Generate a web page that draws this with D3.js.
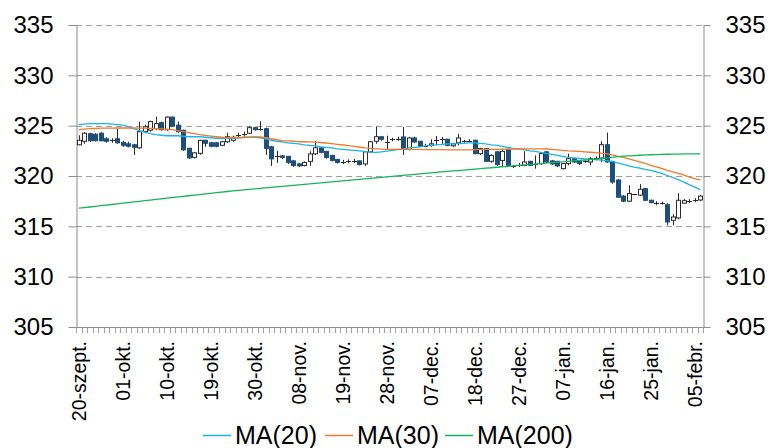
<!DOCTYPE html>
<html>
<head>
<meta charset="utf-8">
<script src="https://cdn.jsdelivr.net/npm/d3@7/dist/d3.min.js"></script>
<style>
  html, body { margin: 0; padding: 0; background: #ffffff; }
  svg { display: block; }
  text { font-family: "Liberation Sans", Arial, Helvetica, sans-serif; fill: #000; }
</style>
</head>
<body>
<div id="chart"></div>
<script>
// ---------------- DATA ----------------
const tickLabels = ["20-szept.","01-okt.","10-okt.","19-okt.","30-okt.","08-nov.","19-nov.","28-nov.",
  "07-dec.","18-dec.","27-dec.","07-jan.","16-jan.","25-jan.","05-febr."];
const labelEvery = 8;
const yTicks = [305, 310, 315, 320, 325, 330, 335];

const openV = [
 323.10,323.45,324.20,324.15,324.25,323.70,323.55,323.70,323.35,323.20,
 323.10,322.80,324.40,324.55,324.70,325.30,324.60,325.85,325.05,324.55,
 322.75,321.85,322.25,323.55,323.30,323.30,323.05,323.40,323.55,324.00,
 324.10,324.25,324.80,324.70,324.70,322.90,321.90,322.00,321.95,321.50,
 321.20,321.05,321.45,322.20,322.80,322.45,322.05,321.65,321.40,321.45,
 321.45,321.50,321.20,322.40,323.45,323.90,323.40,323.65,323.70,323.88,
 322.65,323.78,323.45,323.00,323.05,323.55,323.65,323.65,323.00,323.30,
 323.45,323.50,323.55,322.22,322.72,321.46,322.40,321.55,322.65,320.95,
 321.05,321.06,321.46,321.13,321.23,322.40,321.50,321.46,320.73,321.23,
 321.72,321.46,321.46,321.39,321.75,321.79,323.11,321.39,319.60,318.00,
 317.50,318.15,318.10,318.74,317.59,317.35,317.30,317.15,315.60,315.83,
 317.30,317.49,317.50,317.62];
const highV = [
 324.05,324.35,324.30,324.25,324.35,323.85,323.75,324.70,323.50,323.40,
 323.20,325.40,325.10,325.50,325.90,325.40,325.90,325.90,325.40,324.60,
 322.80,322.40,323.60,323.60,323.40,323.35,323.50,324.30,324.00,324.30,
 324.40,324.95,324.90,325.45,324.80,323.00,322.50,322.10,322.00,321.60,
 321.30,321.45,322.45,323.45,322.90,322.50,322.10,321.70,321.60,321.65,
 321.70,321.55,322.45,323.50,324.90,323.95,324.00,323.80,323.90,324.87,
 323.90,323.90,323.50,323.20,323.65,323.98,323.88,323.70,323.30,324.20,
 323.60,323.65,323.60,322.80,322.80,322.15,322.50,322.70,322.70,321.10,
 321.30,322.45,321.50,322.05,322.30,322.45,321.60,321.50,321.30,322.22,
 321.80,321.50,321.60,321.89,321.95,323.45,324.30,321.50,319.70,318.10,
 319.07,318.20,319.20,318.80,317.65,317.50,317.45,317.30,316.20,318.30,
 317.70,317.70,317.80,318.10];
const lowV = [
 323.05,323.20,323.40,323.45,323.45,323.30,323.30,323.20,322.90,322.85,
 322.10,322.70,324.30,324.40,324.60,324.50,324.50,324.85,324.30,322.50,
 321.70,321.75,322.10,322.90,322.85,322.85,322.95,323.30,323.40,323.80,
 323.90,324.20,324.50,324.50,322.10,321.00,321.30,321.70,321.20,320.90,
 320.90,320.95,321.00,322.10,322.25,321.70,321.45,321.25,321.20,321.25,
 321.30,321.05,321.00,322.30,323.20,323.50,322.70,323.45,323.50,322.10,
 322.55,323.30,322.90,322.85,322.90,323.05,323.20,322.95,322.90,323.05,
 323.30,323.35,322.15,322.10,321.40,321.30,321.00,320.90,321.00,320.80,
 320.90,321.00,321.00,320.73,321.10,321.30,321.10,320.90,320.65,321.06,
 321.30,321.10,321.30,321.06,321.55,321.39,321.30,319.23,317.80,317.40,
 317.40,318.10,318.00,317.50,317.30,317.10,317.15,315.10,315.10,315.70,
 317.25,317.30,317.40,317.50];
const closeV = [
 323.55,324.25,323.50,323.50,323.50,323.45,323.50,323.30,323.05,322.95,
 322.85,324.40,324.90,325.40,325.20,324.60,325.85,324.95,324.40,322.60,
 321.80,322.30,323.55,323.25,322.95,322.95,323.40,323.90,323.85,324.05,
 324.15,324.80,324.60,324.60,322.75,321.70,321.95,321.85,321.35,321.05,
 321.00,321.35,322.20,322.80,322.35,321.85,321.55,321.35,321.42,321.47,
 321.50,321.15,322.40,323.40,323.90,323.65,323.38,323.67,323.72,322.65,
 323.78,323.38,322.95,323.02,323.20,323.57,323.67,323.05,323.20,323.78,
 323.47,323.52,322.22,322.72,321.46,322.05,321.13,322.45,321.06,320.98,
 321.08,321.39,321.06,321.15,322.22,321.39,321.20,321.00,321.23,321.72,
 321.39,321.23,321.48,321.72,321.80,323.11,321.40,319.40,317.90,317.50,
 318.25,318.17,318.68,317.59,317.35,317.25,317.32,315.43,315.93,317.59,
 317.55,317.51,317.60,318.00];

const ma20 = [
 325.10,325.15,325.20,325.20,325.20,325.20,325.15,325.10,325.05,324.90,
 324.70,324.50,324.35,324.20,324.10,324.05,324.00,324.00,324.00,323.95,
 323.90,323.90,323.90,323.85,323.80,323.75,323.75,323.75,323.75,323.80,
 323.85,323.85,323.85,323.80,323.70,323.55,323.45,323.40,323.30,323.25,
 323.20,323.10,323.05,323.00,322.90,322.85,322.80,322.70,322.65,322.60,
 322.55,322.50,322.45,322.38,322.35,322.40,322.48,322.55,322.62,322.70,
 322.80,322.85,322.90,323.00,323.05,323.10,323.15,323.20,323.20,323.25,
 323.25,323.30,323.30,323.25,323.20,323.10,323.05,322.95,322.85,322.75,
 322.70,322.60,322.50,322.45,322.35,322.25,322.15,322.05,321.95,321.85,
 321.80,321.75,321.70,321.65,321.62,321.58,321.52,321.45,321.30,321.15,
 321.00,320.88,320.78,320.65,320.55,320.40,320.25,320.05,319.85,319.65,
 319.40,319.15,318.90,318.65];
const ma30 = [
 324.60,324.65,324.70,324.72,324.75,324.75,324.76,324.77,324.77,324.77,
 324.77,324.76,324.75,324.73,324.71,324.69,324.65,324.60,324.50,324.40,
 324.30,324.20,324.10,324.03,323.96,323.90,323.85,323.82,323.80,323.80,
 323.82,323.85,323.88,323.88,323.80,323.70,323.60,323.52,323.48,323.45,
 323.42,323.40,323.38,323.36,323.33,323.28,323.22,323.15,323.08,323.02,
 322.95,322.88,322.80,322.74,322.70,322.67,322.65,322.65,322.65,322.65,
 322.65,322.65,322.64,322.63,322.62,322.62,322.62,322.60,322.60,322.60,
 322.60,322.60,322.62,322.63,322.64,322.65,322.65,322.66,322.67,322.68,
 322.68,322.69,322.70,322.70,322.70,322.68,322.65,322.60,322.55,322.50,
 322.47,322.44,322.40,322.36,322.32,322.28,322.20,322.10,321.95,321.85,
 321.70,321.55,321.40,321.25,321.05,320.90,320.75,320.55,320.40,320.25,
 320.10,319.90,319.75,319.60];
const ma200 = [
 316.80,316.86,316.92,316.98,317.05,317.11,317.17,317.24,317.30,317.36,
 317.42,317.48,317.55,317.61,317.67,317.73,317.80,317.86,317.92,317.98,
 318.04,318.10,318.16,318.22,318.28,318.34,318.40,318.46,318.52,318.57,
 318.62,318.67,318.72,318.77,318.82,318.87,318.92,318.97,319.02,319.07,
 319.12,319.17,319.22,319.27,319.32,319.37,319.42,319.47,319.52,319.57,
 319.62,319.67,319.72,319.77,319.82,319.87,319.92,319.97,320.02,320.07,
 320.12,320.17,320.22,320.26,320.31,320.36,320.40,320.45,320.50,320.54,
 320.59,320.64,320.68,320.73,320.78,320.82,320.87,320.92,320.96,321.01,
 321.05,321.10,321.14,321.19,321.23,321.28,321.32,321.37,321.41,321.46,
 321.50,321.55,321.59,321.64,321.68,321.73,321.78,321.85,321.92,321.97,
 322.00,322.03,322.06,322.09,322.11,322.13,322.15,322.16,322.17,322.18,
 322.19,322.20,322.20,322.20];

const seriesNames = ["MA(20)", "MA(30)", "MA(200)"];
const seriesColors = ["#19B4EE", "#F07B2A", "#14B45A"];

// ---------------- CHART ----------------
(function () {
const W = 771, H = 448;
const N = openV.length;
const pLeft = 76, pRight = 703, pTop = 25, pBottom = 327;

const svg = d3.select("#chart").append("svg").attr("width", W).attr("height", H);

const x = d3.scaleBand().domain(d3.range(N)).range([pLeft, pRight]).padding(0);
const y = d3.scaleLinear().domain([305, 335]).range([pBottom, pTop]);
const cx = i => x(i) + x.bandwidth() / 2;

// gridlines
svg.append("g").selectAll("line").data(yTicks.filter(v => v > 305)).join("line")
  .attr("x1", pLeft).attr("x2", pRight)
  .attr("y1", d => Math.round(y(d)) + 0.5).attr("y2", d => Math.round(y(d)) + 0.5)
  .attr("stroke", "#A0A0A0").attr("stroke-width", 1).attr("stroke-dasharray", "6,4");

// left axis
const gL = svg.append("g").attr("transform", `translate(${pLeft + 0.5},0)`)
  .call(d3.axisLeft(y).tickValues(yTicks).tickFormat(d3.format("d")).tickSize(8).tickSizeOuter(0).tickPadding(15));
// right axis
const gR = svg.append("g").attr("transform", `translate(${pRight + 0.5},0)`)
  .call(d3.axisRight(y).tickValues(yTicks).tickFormat(d3.format("d")).tickSize(7).tickSizeOuter(0).tickPadding(15));
[gL, gR].forEach(g => {
  g.select(".domain").attr("stroke", "#8C8C8C");
  g.selectAll(".tick line").attr("stroke", "#8C8C8C");
  g.selectAll(".tick text").style("font-size", "24px").attr("fill", "#000")
    .style("font-family", '"Liberation Sans", Arial, sans-serif');
});

// x axis line + minor ticks
const gX = svg.append("g");
gX.append("line").attr("x1", pLeft).attr("x2", pRight + 1)
  .attr("y1", pBottom + 0.5).attr("y2", pBottom + 0.5).attr("stroke", "#8C8C8C");
gX.selectAll("line.mt").data(d3.range(N + 1)).join("line").attr("class", "mt")
  .attr("x1", i => Math.round(pLeft + i * x.step()) + 0.5)
  .attr("x2", i => Math.round(pLeft + i * x.step()) + 0.5)
  .attr("y1", pBottom).attr("y2", pBottom + 6).attr("stroke", "#A0A0A0");

// x labels
gX.selectAll("text.xl").data(tickLabels).join("text").attr("class", "xl")
  .attr("transform", (d, k) => `translate(${cx(k * labelEvery)},341) rotate(-90)`)
  .attr("text-anchor", "end").attr("dy", "0.35em")
  .style("font-size", "19.5px").text(d => d);

// candles
const gC = svg.append("g");
const bw = Math.max(3, Math.round(x.bandwidth() * 0.74));
d3.range(N).forEach(i => {
  const o = openV[i], c = closeV[i], h = highV[i], l = lowV[i];
  const xc = Math.round(cx(i)) + 0.5;
  const up = c >= o;
  gC.append("line").attr("x1", xc).attr("x2", xc).attr("y1", y(h)).attr("y2", y(l))
    .attr("stroke", "#2B2B2B").attr("stroke-width", 1);
  const y0 = y(Math.max(o, c)), y1 = y(Math.min(o, c));
  const hgt = y1 - y0;
  if (hgt < 1.2) {
    gC.append("line").attr("x1", xc - bw / 2 - 0.5).attr("x2", xc + bw / 2 + 0.5)
      .attr("y1", Math.round(y0) + 0.5).attr("y2", Math.round(y0) + 0.5)
      .attr("stroke", "#2B2B2B").attr("stroke-width", 1);
  } else {
    gC.append("rect").attr("x", xc - bw / 2).attr("y", y0).attr("width", bw).attr("height", hgt)
      .attr("fill", up ? "#FFFFFF" : "#1D4F7C")
      .attr("stroke", up ? "#2B2B2B" : "#1D4F7C").attr("stroke-width", 1);
  }
});

// moving averages
const line = d3.line().x((d, i) => cx(i)).y(d => y(d));
[ma20, ma30, ma200].forEach((s, k) => {
  svg.append("path").datum(s).attr("d", line).attr("fill", "none")
    .attr("stroke", seriesColors[k]).attr("stroke-width", 1.3);
});

// legend
const legendX = [203, 325, 445];
const gLeg = svg.append("g");
seriesNames.forEach((n, k) => {
  gLeg.append("line").attr("x1", legendX[k]).attr("x2", legendX[k] + 28)
    .attr("y1", 435.5).attr("y2", 435.5).attr("stroke", seriesColors[k]).attr("stroke-width", 1.5);
  gLeg.append("text").attr("x", legendX[k] + 32).attr("y", 444)
    .style("font-size", "25px").text(n);
});
})();
</script>
</body>
</html>
